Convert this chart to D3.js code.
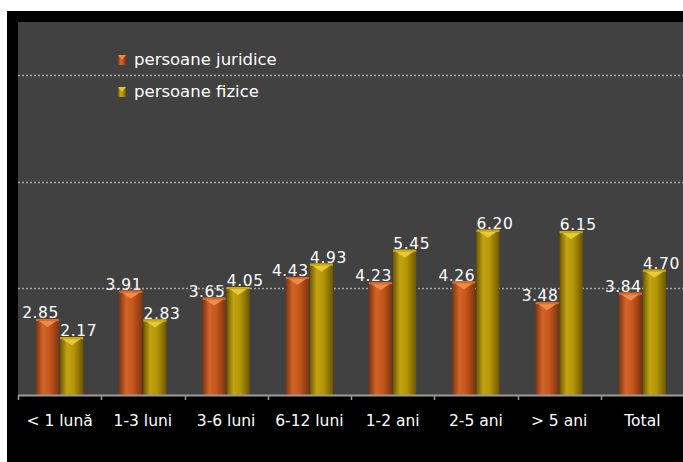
<!DOCTYPE html>
<html>
<head>
<meta charset="utf-8">
<script src="https://cdn.jsdelivr.net/npm/d3@7"></script>
<style>
  body { margin: 0; background: #fff; }
  text { font-family: "DejaVu Sans", sans-serif; fill: #fff; }
</style>
</head>
<body>
<div id="chart"></div>
<script>
let w = 683,
    h = 462;

// data
let categories = ["< 1 lună", "1-3 luni", "3-6 luni", "6-12 luni", "1-2 ani", "2-5 ani", "> 5 ani", "Total"];
let juridice = [2.85, 3.91, 3.65, 4.43, 4.23, 4.26, 3.48, 3.84];
let fizice = [2.17, 2.83, 4.05, 4.93, 5.45, 6.20, 6.15, 4.70];
let seriesNames = ["persoane juridice", "persoane fizice"];
let gridTicks = [4, 8, 12];

let plot = { left: 18, top: 22, right: 683, bottom: 395 };

let svg = d3.select("#chart")
            .append("svg")
            .attr("width", w)
            .attr("height", h);

// backgrounds
svg.append("rect").attr("x", 7).attr("y", 11).attr("width", w - 7).attr("height", h - 11).attr("fill", "#000");
svg.append("rect")
   .attr("x", plot.left).attr("y", plot.top)
   .attr("width", plot.right - plot.left).attr("height", plot.bottom - plot.top)
   .attr("fill", "#414141");

// gradients for the cylinder look
let defs = svg.append("defs");
function cyl(id, edge, mid, light) {
  let g = defs.append("linearGradient").attr("id", id).attr("x1", 0).attr("x2", 1).attr("y1", 0).attr("y2", 0);
  g.append("stop").attr("offset", "0%").attr("stop-color", edge);
  g.append("stop").attr("offset", "30%").attr("stop-color", light);
  g.append("stop").attr("offset", "60%").attr("stop-color", mid);
  g.append("stop").attr("offset", "100%").attr("stop-color", edge);
}
cyl("gradJ", "#7e3410", "#c4561c", "#d2652a");
cyl("gradF", "#6e5600", "#b39506", "#c2a412");

let colors = [
  { fill: "url(#gradJ)", cap: "#f28a48", capDark: "#d86a2c" },
  { fill: "url(#gradF)", cap: "#e6c93a", capDark: "#c9a910" }
];

let x = d3.scaleBand()
          .domain(categories)
          .range([plot.left, plot.right + 1])
          .paddingInner(0)
          .paddingOuter(0);

let x1 = d3.scaleBand()
           .domain([0, 1])
           .range([0, x.bandwidth()])
           .paddingOuter(0.75)
           .paddingInner(0.04);

let y = d3.scaleLinear()
          .domain([0, 14])
          .range([plot.bottom, plot.top]);

// gridlines
svg.selectAll(".grid")
   .data(gridTicks)
   .enter()
   .append("line")
   .attr("x1", plot.left)
   .attr("x2", plot.right)
   .attr("y1", d => Math.round(y(d)) + 0.5)
   .attr("y2", d => Math.round(y(d)) + 0.5)
   .attr("stroke", "#a8a8a8")
   .attr("stroke-width", 1.5)
   .attr("stroke-dasharray", "2,2");

let data = [];
categories.forEach((c, i) => {
  data.push({ cat: c, s: 0, v: juridice[i] });
  data.push({ cat: c, s: 1, v: fizice[i] });
});

let bars = svg.selectAll(".bar")
              .data(data)
              .enter()
              .append("g")
              .attr("class", "bar");

bars.append("rect")
    .attr("x", d => x(d.cat) + x1(d.s))
    .attr("y", d => y(d.v))
    .attr("width", x1.bandwidth())
    .attr("height", d => y(0) - y(d.v))
    .attr("fill", d => colors[d.s].fill);

// top cap: light chevron
bars.append("path")
    .attr("d", d => {
      let x0 = x(d.cat) + x1(d.s), bw = x1.bandwidth(), t = y(d.v);
      return "M" + x0 + "," + t + "L" + (x0 + bw) + "," + t + "L" + (x0 + bw / 2) + "," + (t + 8) + "Z";
    })
    .attr("fill", d => colors[d.s].cap);
bars.append("rect")
    .attr("x", d => x(d.cat) + x1(d.s))
    .attr("y", d => y(d.v))
    .attr("width", x1.bandwidth())
    .attr("height", 2)
    .attr("fill", d => colors[d.s].capDark);

// value labels
svg.selectAll(".label")
   .data(data)
   .enter()
   .append("text")
   .attr("x", d => x(d.cat) + x1(d.s) + x1.bandwidth() / 2 + (d.s === 0 ? -7 : 7))
   .attr("y", d => y(d.v) - 1)
   .attr("text-anchor", "middle")
   .style("font-size", "15.5px")
   .style("letter-spacing", "0.6px")
   .text(d => d.v.toFixed(2));

// x axis
let axis = svg.append("g")
              .attr("transform", "translate(0," + plot.bottom + ")");
axis.append("line")
    .attr("x1", plot.left).attr("x2", plot.right)
    .attr("y1", 0.5).attr("y2", 0.5)
    .attr("stroke", "#9a9a9a").attr("stroke-width", 2);
axis.selectAll(".tick")
    .data(categories)
    .enter()
    .append("line")
    .attr("x1", d => Math.round(x(d)) + 0.5)
    .attr("x2", d => Math.round(x(d)) + 0.5)
    .attr("y1", 0).attr("y2", 5)
    .attr("stroke", "#9a9a9a").attr("stroke-width", 1.5);
axis.selectAll(".cat")
    .data(categories)
    .enter()
    .append("text")
    .attr("x", d => x(d) + x.bandwidth() / 2)
    .attr("y", 31)
    .attr("text-anchor", "middle")
    .style("font-size", "15.5px")
    .text(d => d);

// legend
let legend = svg.selectAll(".legend")
                .data(seriesNames)
                .enter()
                .append("g")
                .attr("transform", (d, i) => "translate(118," + (55 + i * 32) + ")");
legend.append("rect")
      .attr("width", 8).attr("height", 10)
      .attr("fill", (d, i) => colors[i].fill);
legend.append("path")
      .attr("d", "M0,0L8,0L4,4.5Z")
      .attr("fill", (d, i) => colors[i].cap);
legend.append("text")
      .attr("x", 16)
      .attr("y", 10)
      .style("font-size", "16.5px")
      .text(d => d);
</script>
</body>
</html>
